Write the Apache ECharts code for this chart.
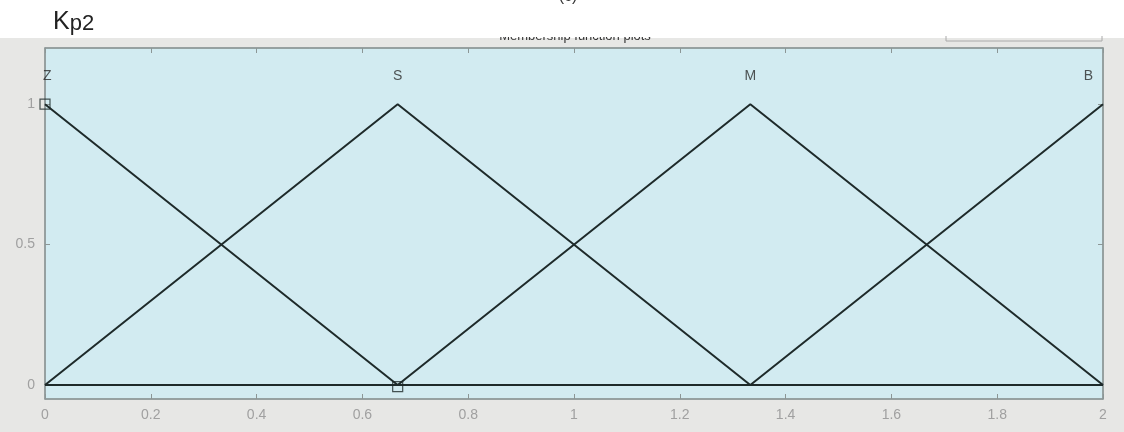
<!DOCTYPE html>
<html>
<head>
<meta charset="utf-8">
<script src="https://cdn.jsdelivr.net/npm/echarts@6/dist/echarts.min.js"></script>
<style>html,body{margin:0;padding:0;background:#fff}#c{width:1124px;height:432px}</style>
</head>
<body>
<div id="c"></div>
<script>
const mfNames = ['Z', 'S', 'M', 'B'];
const mfPeaks = [0, 0.6667, 1.3333, 2];
const mfZ = [[0, 1], [0.6667, 0], [2, 0]];
const mfS = [[0, 0], [0.6667, 1], [1.3333, 0], [2, 0]];
const mfM = [[0, 0], [0.6667, 0], [1.3333, 1], [2, 0]];
const mfB = [[0, 0], [1.3333, 0], [2, 1]];
const markerPts = [[0, 1], [0.6667, -0.006]];
const yTicks = [0, 0.5, 1];
const labelY = 1.1;

const chart = echarts.init(document.getElementById('c'));
const lineColor = '#1e2a2a';
const axisColor = '#8c9696';
const ff = 'Liberation Sans, Arial';
function lineSeries(name, data) {
  return {
    name: name, type: 'line', data: data, symbol: 'none', silent: true,
    lineStyle: {color: lineColor, width: 2}, z: 3
  };
}
const labelData = mfNames.map((n, i) => ({
  value: [mfPeaks[i], labelY],
  label: {
    show: true, formatter: n, position: 'inside',
    align: i === 0 ? 'left' : (i === mfNames.length - 1 ? 'right' : 'center'),
    offset: i === 0 ? [-2, 0] : (i === mfNames.length - 1 ? [-10, 0] : [0, 0]),
    color: '#2a2a2a', fontSize: 14, fontFamily: ff
  }
}));

chart.setOption({
  animation: false,
  backgroundColor: '#fff',
  graphic: [
    {type: 'rect', shape: {x: 0, y: 38, width: 1124, height: 394}, style: {fill: '#e7e7e5'}, z: -10},
    {type: 'text', x: 575, y: 30, style: {text: 'Membership function plots', fontSize: 13, fill: '#333', textAlign: 'center', fontFamily: ff}, z: -5},
    {type: 'rect', shape: {x: 0, y: 0, width: 1124, height: 37}, style: {fill: '#fff'}, z: -4},
    {type: 'text', x: 568, y: -11, style: {text: '(c)', fontSize: 16, fill: '#333', textAlign: 'center', fontFamily: ff}, z: 1},
    {type: 'polyline', shape: {points: [[946, 36], [946, 41], [1102, 41], [1102, 36]]}, style: {stroke: '#aaa', lineWidth: 1, fill: null}, z: -3},
    {type: 'text', x: 53, y: 10, style: {
      rich: {a: {fontSize: 25, fill: '#222', fontFamily: ff}, b: {fontSize: 22, fill: '#222', fontFamily: ff, padding: [3, 0, 0, 0]}},
      text: '{a|K}{b|p2}'
    }}
  ],
  grid: {left: 45, right: 21, top: 48, bottom: 33, show: true, backgroundColor: '#d2ebf1', borderColor: axisColor, borderWidth: 1},
  xAxis: [
    {type: 'value', min: 0, max: 2, interval: 0.2, position: 'bottom',
     axisLine: {show: true, onZero: false, lineStyle: {color: axisColor, width: 1.5}},
     axisTick: {show: true, inside: true, length: 5, lineStyle: {color: axisColor}},
     axisLabel: {color: '#a0a0a0', fontSize: 14, margin: 9, fontFamily: ff,
       formatter: v => String(Math.round(v * 10) / 10)},
     splitLine: {show: false}},
    {type: 'value', min: 0, max: 2, interval: 0.2, position: 'top',
     axisLine: {show: true, onZero: false, lineStyle: {color: axisColor, width: 1.5}},
     axisTick: {show: true, inside: true, length: 5, lineStyle: {color: axisColor}},
     axisLabel: {show: false}, splitLine: {show: false}}
  ],
  yAxis: [
    {type: 'value', min: -0.05, max: 1.2, position: 'left',
     axisLine: {show: true, onZero: false, lineStyle: {color: axisColor, width: 1.5}},
     axisTick: {show: true, inside: true, length: 5, customValues: yTicks, lineStyle: {color: axisColor}},
     axisLabel: {color: '#a0a0a0', fontSize: 14, margin: 10, customValues: yTicks, fontFamily: ff,
       formatter: v => String(v)},
     splitLine: {show: false}},
    {type: 'value', min: -0.05, max: 1.2, position: 'right',
     axisLine: {show: true, onZero: false, lineStyle: {color: axisColor, width: 1.5}},
     axisTick: {show: true, inside: true, length: 5, customValues: yTicks, lineStyle: {color: axisColor}},
     axisLabel: {show: false}, splitLine: {show: false}}
  ],
  series: [
    lineSeries('Z', mfZ),
    lineSeries('S', mfS),
    lineSeries('M', mfM),
    lineSeries('B', mfB),
    {type: 'scatter', data: markerPts, symbol: 'rect', symbolSize: 10, silent: true,
     itemStyle: {color: 'rgba(0,0,0,0)', borderColor: lineColor, borderWidth: 1.2}, z: 4},
    {type: 'scatter', data: labelData, symbolSize: 0, silent: true, z: 5}
  ]
});
</script>
</body>
</html>
